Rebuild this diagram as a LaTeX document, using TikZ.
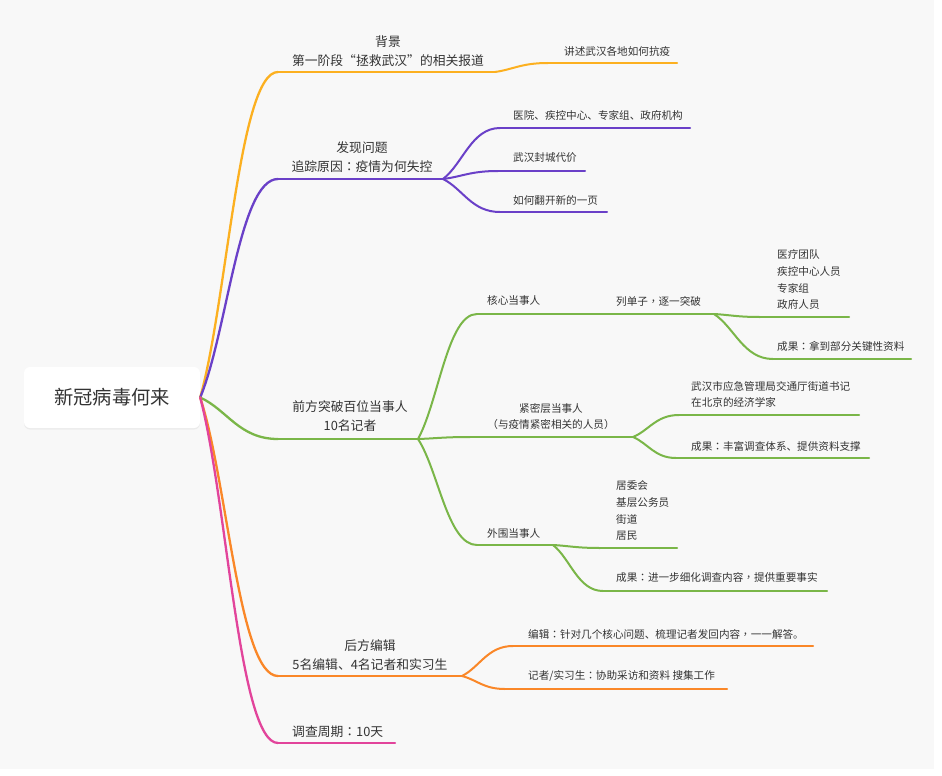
\documentclass[tikz,border=0pt]{standalone}
\usepackage{fontspec}
\setmainfont{Noto Sans CJK SC}
\newfontfamily\tcfont{Noto Sans CJK TC}
\newcommand\mmcolon{{\tcfont ：}}
\newcommand\mmcomma{{\tcfont ，}}
\usetikzlibrary{calc,shadows}
\definecolor{cY}{RGB}{252,176,32}
\definecolor{cP}{RGB}{106,64,200}
\definecolor{cG}{RGB}{122,182,72}
\definecolor{cO}{RGB}{250,135,40}
\definecolor{cK}{RGB}{226,68,155}
\definecolor{txt}{RGB}{51,51,51}
\definecolor{bg}{RGB}{248,248,248}
% connector: #1 style, #2 from, #3 to
\newcommand\mmconn[3]{\draw[#1] let \p1=(#2), \p2=(#3) in (\p1) .. controls ({\x1+0.35*(\x2-\x1)},{\y1+0.3*(\y2-\y1)}) and ({\x1+0.5*(\x2-\x1)},\y2) .. (\p2);}
% topic underline: #1 name, #2 style, #3 start x, #4 end x, #5 y
\newcommand\mmline[5]{\coordinate (#1s) at (#3,#5); \coordinate (#1e) at (#4,#5); \draw[#2] (#1s) -- (#1e);}
\begin{document}
\begin{tikzpicture}[x=1pt,y=-1pt,
  bY/.style={draw=cY,line width=2.3pt,line cap=round},
  bP/.style={draw=cP,line width=2.3pt,line cap=round},
  bG/.style={draw=cG,line width=2.3pt,line cap=round},
  bO/.style={draw=cO,line width=2.3pt,line cap=round},
  bK/.style={draw=cK,line width=2.3pt,line cap=round},
  sY/.style={draw=cY,line width=2pt,line cap=round},
  sP/.style={draw=cP,line width=2pt,line cap=round},
  sG/.style={draw=cG,line width=2pt,line cap=round},
  sO/.style={draw=cO,line width=2pt,line cap=round},
  rootbox/.style={rounded corners=6pt,fill=white,minimum width=176pt,minimum height=61pt,inner sep=0pt,
    font=\fontsize{19.3}{23}\selectfont,text=txt,
    drop shadow={opacity=0.10,shadow xshift=0pt,shadow yshift=-1.5pt}},
  lone/.style={font=\fontsize{12.8}{19.5}\selectfont,text=txt,inner sep=0pt,align=center,anchor=south},
  ltwo/.style={font=\fontsize{10.6}{16.7}\selectfont,text=txt,inner sep=0pt,align=left,anchor=south west},
  ltwoc/.style={font=\fontsize{10.6}{16.7}\selectfont,text=txt,inner sep=0pt,align=center,anchor=south}]
\useasboundingbox (0,0) rectangle (942,776);
\fill[white] (0,0) rectangle (942,776);
\fill[bg] (0,0) rectangle (934,769);

\node[rootbox] (root) at (112,397.5) {新冠病毒何来};

% ---- yellow branch
\mmline{A}{bY}{278}{495}{72}
\node[lone] (At) at (388,67) {背景\\第一阶段“拯救武汉”的相关报道};
\mmconn{bY}{root.east}{As}
\mmline{Aa}{sY}{548}{677}{63}
\node[ltwo] (Aat) at (564,57) {讲述武汉各地如何抗疫};
\mmconn{sY}{Ae}{Aas}

% ---- purple branch
\mmline{B}{bP}{278}{443}{179}
\node[lone] (Bt) at (362,173) {发现问题\\追踪原因\mmcolon 疫情为何失控};
\mmconn{bP}{root.east}{Bs}
\mmline{Ba}{sP}{500}{690}{128}
\node[ltwo] (Bat) at (513,121) {医院、疾控中心、专家组、政府机构};
\mmconn{sP}{Be}{Bas}
\mmline{Bb}{sP}{498}{585}{171}
\node[ltwo] (Bbt) at (513,163) {武汉封城代价};
\mmconn{sP}{Be}{Bbs}
\mmline{Bc}{sP}{500}{607}{212}
\node[ltwo] (Bct) at (513,206) {如何翻开新的一页};
\mmconn{sP}{Be}{Bcs}

% ---- green branch
\mmline{C}{bG}{278}{418}{439}
\node[lone] (Ct) at (350,432) {前方突破百位当事人\\10名记者};
\mmconn{bG}{root.east}{Cs}

\mmline{Ca}{sG}{477}{550}{314}
\node[ltwo] (Cat) at (487,306) {核心当事人};
\mmconn{sG}{Ce}{Cas}
\mmline{Caa}{sG}{606}{714}{314}
\node[ltwo] (Caat) at (616,307) {列单子\mmcomma 逐一突破};
\mmconn{sG}{Cae}{Caas}
\mmline{Caaa}{sG}{760}{849}{317}
\node[ltwo] (Caaat) at (777,310) {医疗团队\\疾控中心人员\\专家组\\政府人员};
\mmconn{sG}{Caae}{Caaas}
\mmline{Caab}{sG}{773}{911}{359}
\node[ltwo] (Caabt) at (777,352) {成果\mmcolon 拿到部分关键性资料};
\mmconn{sG}{Caae}{Caabs}

\mmline{Cb}{sG}{470}{633}{437}
\node[ltwoc] (Cbt) at (551,430) {紧密层当事人\\（与疫情紧密相关的人员）};
\mmconn{sG}{Ce}{Cbs}
\mmline{Cba}{sG}{679}{859}{415}
\node[ltwo] (Cbat) at (691,408) {武汉市应急管理局交通厅街道书记\\在北京的经济学家};
\mmconn{sG}{Cbe}{Cbas}
\mmline{Cbb}{sG}{676}{869}{458}
\node[ltwo] (Cbbt) at (691,452) {成果\mmcolon 丰富调查体系、提供资料支撑};
\mmconn{sG}{Cbe}{Cbbs}

\mmline{Cc}{sG}{477}{553}{545}
\node[ltwo] (Cct) at (487,539) {外围当事人};
\mmconn{sG}{Ce}{Ccs}
\mmline{Cca}{sG}{600}{677}{548}
\node[ltwo] (Ccat) at (616,541) {居委会\\基层公务员\\街道\\居民};
\mmconn{sG}{Cce}{Ccas}
\mmline{Ccb}{sG}{603}{827}{591}
\node[ltwo] (Ccbt) at (616,583) {成果\mmcolon 进一步细化调查内容\mmcomma 提供重要事实};
\mmconn{sG}{Cce}{Ccbs}

% ---- orange branch
\mmline{D}{bO}{278}{462}{676}
\node[lone] (Dt) at (370,671) {后方编辑\\5名编辑、4名记者和实习生};
\mmconn{bO}{root.east}{Ds}
\mmline{Da}{sO}{513}{813}{646}
\node[ltwo] (Dat) at (528,640) {编辑\mmcolon 针对几个核心问题、梳理记者发回内容\mmcomma 一一解答。};
\mmconn{sO}{De}{Das}
\mmline{Db}{sO}{505}{727}{689}
\node[ltwo] (Dbt) at (528,682) {记者/实习生\mmcolon 协助采访和资料 搜集工作};
\mmconn{sO}{De}{Dbs}

% ---- pink branch
\mmline{E}{bK}{278}{395}{743}
\node[lone,anchor=south west] (Et) at (292,738) {调查周期\mmcolon 10天};
\mmconn{bK}{root.east}{Es}
\end{tikzpicture}
\end{document}
